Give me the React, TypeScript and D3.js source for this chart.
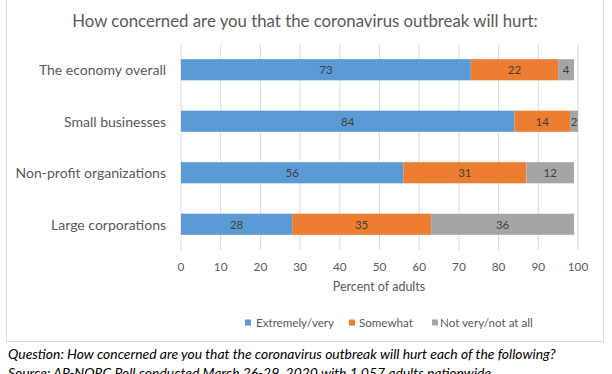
import React from "react";
import * as d3 from "d3";

const title = "How concerned are you that the coronavirus outbreak will hurt:";
const categories = ["The economy overall", "Small businesses", "Non-profit organizations", "Large corporations"];
const seriesNames = ["Extremely/very", "Somewhat", "Not very/not at all"];
const extremely = [73, 84, 56, 28];
const somewhat = [22, 14, 31, 35];
const notVery = [4, 2, 12, 36];
const xTicks = [0, 10, 20, 30, 40, 50, 60, 70, 80, 90, 100];
const xTitle = "Percent of adults";
const note1 = "Question: How concerned are you that the coronavirus outbreak will hurt each of the following?";
const note2 = "Source: AP-NORC Poll conducted March 26-29, 2020 with 1,057 adults nationwide";

const colors = ["#5B9BD5", "#ED7D31", "#A5A5A5"];
const FONT = "Lato, 'Open Sans', sans-serif";

export default function App() {
  const W = 612, H = 374;
  const left = 181, right = 578, top = 44, bottom = 250;
  const x = d3.scaleLinear().domain([0, 100]).range([left, right]);
  const y = d3.scaleBand<string>().domain(categories).range([top, bottom]).paddingInner(0.59).paddingOuter(0.295);
  const rows = categories.map((c, i) => ({ cat: c, extremely: extremely[i], somewhat: somewhat[i], notVery: notVery[i] }));
  const stack = d3.stack<any>().keys(["extremely", "somewhat", "notVery"])(rows);

  const legendItems = [
    { name: seriesNames[0], sx: 245, tx: 256 },
    { name: seriesNames[1], sx: 349, tx: 359 },
    { name: seriesNames[2], sx: 432, tx: 440 },
  ];

  return (
    <svg width={W} height={H} style={{ position: "absolute", left: 0, top: 0, background: "#fff" }} fontFamily={FONT}>
      <rect x={0} y={0} width={W} height={H} fill="#fff" />
      <rect x={6.5} y={-5} width={597} height={346.5} fill="#fff" stroke="#D9D9D9" strokeWidth={1} />
      <text x={305} y={20} textAnchor="middle" dominantBaseline="central" fontSize={16.8} fill="#595959">{title}</text>
      {xTicks.map((t) => (
        <line key={t} x1={x(t)} x2={x(t)} y1={top} y2={bottom} stroke="#D9D9D9" strokeWidth={1} />
      ))}
      {stack.map((s, si) =>
        s.map((d, i) => (
          <g key={si + "-" + i}>
            <rect x={x(d[0])} y={y(categories[i])!} width={x(d[1]) - x(d[0])} height={y.bandwidth()} fill={colors[si]} />
            <text x={(x(d[0]) + x(d[1])) / 2} y={y(categories[i])! + y.bandwidth() / 2} textAnchor="middle" dominantBaseline="central" fontSize={11.5} fill="#404040">
              {d[1] - d[0]}
            </text>
          </g>
        ))
      )}
      {categories.map((c) => (
        <text key={c} x={166} y={y(c)! + y.bandwidth() / 2} textAnchor="end" dominantBaseline="central" fontSize={14} fill="#595959">{c}</text>
      ))}
      {xTicks.map((t) => (
        <text key={t} x={x(t)} y={266} textAnchor="middle" dominantBaseline="central" fontSize={11.8} fill="#595959">{t}</text>
      ))}
      <text x={379} y={286} textAnchor="middle" dominantBaseline="central" fontSize={12.5} fill="#595959">{xTitle}</text>
      {legendItems.map((l, i) => (
        <g key={l.name}>
          <rect x={l.sx} y={319.5} width={6} height={6} fill={colors[i]} />
          <text x={l.tx} y={322.5} dominantBaseline="central" fontSize={11.6} fill="#595959">{l.name}</text>
        </g>
      ))}
      <text x={8} y={353} dominantBaseline="central" fontSize={13.9} fontStyle="italic" fill="#000">{note1}</text>
      <text x={8} y={372} dominantBaseline="central" fontSize={13.9} fontStyle="italic" fill="#000">{note2}</text>
    </svg>
  );
}
